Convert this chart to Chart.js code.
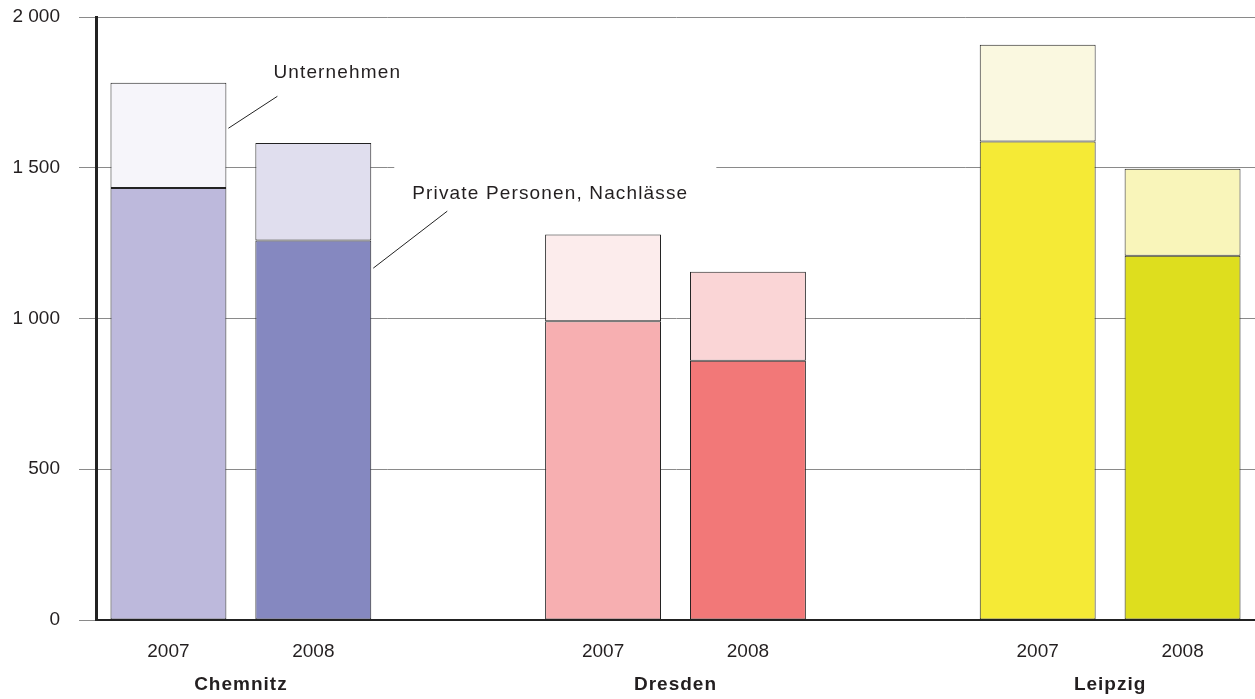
<!DOCTYPE html>
<html>
<head>
<meta charset="utf-8">
<script src="https://cdn.jsdelivr.net/npm/chart.js@4/dist/chart.umd.min.js"></script>
<style>
  html, body { margin: 0; padding: 0; background: #fff; }
  #wrap { width: 1255px; height: 699px; position: relative; }
</style>
</head>
<body>
<div id="wrap"><canvas id="c"></canvas></div>
<script>
// Bequests by city and year (empty slots separate the cities)
const yearLabels = ['2007', '2008', '', '2007', '2008', '', '2007', '2008'];
const cities = ['Chemnitz', 'Dresden', 'Leipzig'];
const cityFirstSlot = [0, 3, 6];

const privatePersonen = [1433, 1259, null, 991, 860, null, 1587, 1208];
const unternehmen     = [349, 323, null, 288, 295, null, 321, 289];

const privateColors = ['#bdb9dc', '#8588c0', null, '#f7afb1', '#f27878', null, '#f5ea36', '#dede1e'];
const firmColors    = ['#f6f5fa', '#e0deee', null, '#fcecec', '#fad5d6', null, '#faf8e0', '#f9f5ba'];

const yTicks = [0, 500, 1000, 1500, 2000];
const seriesNames = ['Private Personen, Nachlässe', 'Unternehmen'];

const TEXT = '#231f20';
const FONT = 'Liberation Sans, Arial, sans-serif';

function fmt(v) {
  return String(v).replace(/\B(?=(\d{3})+(?!\d))/g, ' ');
}

// Annotations, city names and leader lines
const annotations = {
  id: 'annotations',
  afterDatasetsDraw(chart) {
    const ctx = chart.ctx;
    const x = chart.scales.x, y = chart.scales.y;
    const meta0 = chart.getDatasetMeta(0);
    const barC07 = meta0.data[0], barC08 = meta0.data[1];
    const right07 = barC07.x + barC07.width / 2;
    const right08 = barC08.x + barC08.width / 2;

    ctx.save();
    ctx.fillStyle = TEXT;
    ctx.font = '19px ' + FONT;
    ctx.letterSpacing = '1.15px';
    ctx.textBaseline = 'middle';
    ctx.textAlign = 'left';

    // label for the lower segments, on a white box
    const pText = seriesNames[0];
    const px = right08 + 41;
    const py = y.getPixelForValue(1415);
    const pw = ctx.measureText(pText).width;
    ctx.fillStyle = '#fff';
    ctx.fillRect(right08 + 23, py - 32, (px + pw + 28) - (right08 + 23), 58);
    ctx.fillStyle = TEXT;
    ctx.fillText(pText, px, py);

    // label for the upper segments
    ctx.fillText(seriesNames[1], right07 + 47, y.getPixelForValue(1816));

    // leader lines
    ctx.strokeStyle = '#222';
    ctx.lineWidth = 1;
    ctx.beginPath();
    ctx.moveTo(right07 + 2, y.getPixelForValue(1631));
    ctx.lineTo(right07 + 51, y.getPixelForValue(1737));
    ctx.moveTo(right08 + 2, y.getPixelForValue(1167));
    ctx.lineTo(right08 + 76, y.getPixelForValue(1356));
    ctx.stroke();

    // city names under each pair of years
    ctx.font = 'bold 19px ' + FONT;
    ctx.letterSpacing = '1px';
    ctx.textAlign = 'center';
    cities.forEach((name, i) => {
      const a = x.getPixelForValue(cityFirstSlot[i]);
      const b = x.getPixelForValue(cityFirstSlot[i] + 1);
      ctx.fillText(name, (a + b) / 2, 685);
    });
    ctx.restore();
  }
};

new Chart(document.getElementById('c'), {
  type: 'bar',
  data: {
    labels: yearLabels,
    datasets: [
      {
        label: seriesNames[0],
        data: privatePersonen,
        backgroundColor: privateColors,
        borderColor: '#222',
        borderWidth: 1,
        borderSkipped: false,
        barPercentage: 0.8,
        categoryPercentage: 1.0
      },
      {
        label: seriesNames[1],
        data: unternehmen,
        backgroundColor: firmColors,
        borderColor: '#222',
        borderWidth: 1,
        borderSkipped: false,
        barPercentage: 0.8,
        categoryPercentage: 1.0
      }
    ]
  },
  options: {
    responsive: true,
    maintainAspectRatio: false,
    animation: false,
    layout: { padding: { top: 17, right: 0, left: 0, bottom: 0 } },
    plugins: {
      legend: { display: false },
      tooltip: { enabled: false }
    },
    scales: {
      x: {
        stacked: true,
        grid: { display: false, drawTicks: false },
        border: { display: true, color: '#222', width: 2 },
        ticks: {
          color: TEXT,
          font: { family: FONT, size: 19 },
          padding: 20,
          maxRotation: 0,
          autoSkip: false
        },
        afterFit(scale) { scale.height = 79; }
      },
      y: {
        stacked: true,
        min: 0,
        max: 2000,
        afterBuildTicks(scale) { scale.ticks = yTicks.map(v => ({ value: v })); },
        grid: { color: '#8a8a8a', lineWidth: 1, tickLength: 17, drawTicks: true },
        border: { display: true, color: '#222', width: 3 },
        ticks: {
          color: TEXT,
          font: { family: FONT, size: 19 },
          padding: 19,
          callback: v => fmt(v)
        },
        afterFit(scale) {
          scale.width = 96;
          scale.paddingTop = 0;
          scale.paddingBottom = 0;
        }
      }
    }
  },
  plugins: [annotations]
});
</script>
</body>
</html>
